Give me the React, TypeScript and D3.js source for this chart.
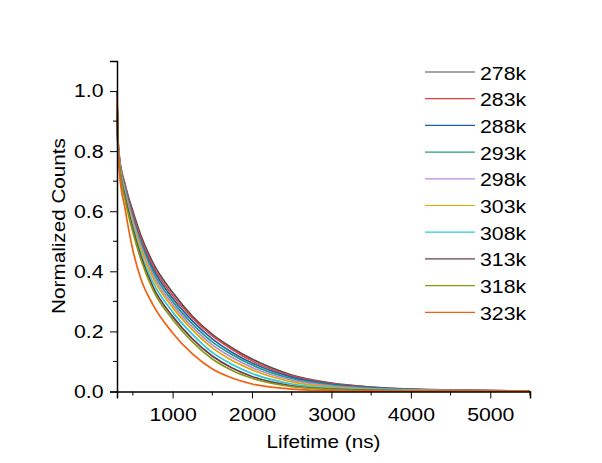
import React, { useEffect, useRef } from "react";
import * as d3 from "d3";

// sample times (ns)
const times = [300, 310, 330, 400, 500, 600, 750, 1000, 1250, 1500, 1750, 2000, 2500, 3000, 3500, 4000, 4500, 5000, 5500];

const labels = ["278k", "283k", "288k", "293k", "298k", "303k", "308k", "313k", "318k", "323k"];
const colors = ["#4d4d4d", "#e8403c", "#1f5fb0", "#20a080", "#b888e0", "#e0a800", "#30c8d8", "#6b3a50", "#8a9a10", "#f06010"];

const s278 = [1.0, 0.86, 0.78, 0.69, 0.6, 0.52, 0.43, 0.33, 0.25, 0.19, 0.145, 0.108, 0.055, 0.028, 0.015, 0.008, 0.005, 0.003, 0.002];
const s283 = [0.98, 0.85, 0.78, 0.69, 0.59, 0.51, 0.42, 0.32, 0.245, 0.185, 0.14, 0.102, 0.052, 0.026, 0.014, 0.008, 0.005, 0.003, 0.002];
const s288 = [0.97, 0.85, 0.77, 0.68, 0.58, 0.5, 0.41, 0.31, 0.235, 0.175, 0.13, 0.095, 0.048, 0.024, 0.013, 0.007, 0.004, 0.003, 0.002];
const s293 = [0.96, 0.84, 0.77, 0.68, 0.575, 0.495, 0.4, 0.3, 0.225, 0.165, 0.122, 0.088, 0.043, 0.021, 0.011, 0.006, 0.004, 0.002, 0.001];
const s298 = [0.98, 0.85, 0.77, 0.67, 0.57, 0.485, 0.39, 0.29, 0.215, 0.155, 0.113, 0.08, 0.038, 0.018, 0.009, 0.005, 0.003, 0.002, 0.001];
const s303 = [0.97, 0.84, 0.76, 0.66, 0.56, 0.475, 0.38, 0.28, 0.205, 0.145, 0.103, 0.072, 0.032, 0.015, 0.008, 0.004, 0.003, 0.002, 0.001];
const s308 = [0.96, 0.84, 0.76, 0.655, 0.55, 0.46, 0.365, 0.265, 0.19, 0.13, 0.09, 0.06, 0.025, 0.011, 0.006, 0.003, 0.002, 0.001, 0.001];
const s313 = [0.95, 0.83, 0.75, 0.65, 0.54, 0.45, 0.35, 0.25, 0.175, 0.118, 0.078, 0.05, 0.019, 0.008, 0.004, 0.002, 0.001, 0.001, 0.001];
const s318 = [0.96, 0.83, 0.75, 0.64, 0.53, 0.44, 0.34, 0.24, 0.165, 0.108, 0.07, 0.044, 0.016, 0.007, 0.003, 0.002, 0.001, 0.001, 0.001];
const s323 = [0.97, 0.82, 0.73, 0.61, 0.47, 0.375, 0.29, 0.195, 0.125, 0.075, 0.045, 0.025, 0.008, 0.003, 0.002, 0.001, 0.001, 0.001, 0.001];

const seriesValues = [s278, s283, s288, s293, s298, s303, s308, s313, s318, s323];

const xTicks = [1000, 2000, 3000, 4000, 5000];
const xMinor = [500, 1500, 2500, 3500, 4500, 5500];
const yTicks = [0.0, 0.2, 0.4, 0.6, 0.8, 1.0];
const yMinor = [0.1, 0.3, 0.5, 0.7, 0.9];

const W = 602;
const H = 463;
const FONT = "Arial, 'Liberation Sans', sans-serif";
const SX = 1.15; // reference text is drawn a bit wide

export default function App() {
  const svgRef = useRef<SVGSVGElement>(null);

  useEffect(() => {
    const svg = d3.select(svgRef.current);
    svg.selectAll("*").remove();

    const left = 117, right = 530, top = 61, bottom = 391.5;
    const x = d3.scaleLinear().domain([300, 5500]).range([left, right]);
    const y = d3.scaleLinear().domain([0, 1.1]).range([bottom, top]);

    svg.append("rect").attr("width", W).attr("height", H).attr("fill", "#fff");

    // curves
    const line = d3
      .line<number>()
      .x((_, i) => x(times[i]))
      .y((d) => y(d))
      .curve(d3.curveMonotoneX);

    seriesValues.forEach((vals, k) => {
      svg
        .append("path")
        .attr("d", line(vals))
        .attr("fill", "none")
        .attr("stroke", colors[k])
        .attr("stroke-width", 1.7);
    });

    // x axis
    const xAxis = svg.append("g").attr("transform", `translate(0,${bottom})`);
    xAxis
      .call(d3.axisBottom(x).tickValues(xTicks).tickSize(7).tickPadding(9).tickFormat(d3.format("d")))
      .call((g) => g.select(".domain").attr("stroke", "#000").attr("stroke-width", 1.5));
    xAxis
      .selectAll(".minor")
      .data(xMinor)
      .enter()
      .append("line")
      .attr("x1", (d) => x(d))
      .attr("x2", (d) => x(d))
      .attr("y1", 0)
      .attr("y2", 4)
      .attr("stroke", "#000");

    // y axis
    const yAxis = svg.append("g").attr("transform", `translate(${left},0)`);
    yAxis
      .call(d3.axisLeft(y).tickValues(yTicks).tickSize(7).tickPadding(6).tickFormat(d3.format(".1f")))
      .call((g) => g.select(".domain").attr("stroke", "#000").attr("stroke-width", 1.5));
    yAxis
      .selectAll(".minor")
      .data(yMinor)
      .enter()
      .append("line")
      .attr("x1", 0)
      .attr("x2", -4)
      .attr("y1", (d) => y(d))
      .attr("y2", (d) => y(d))
      .attr("stroke", "#000");

    svg.selectAll(".tick line").attr("stroke", "#000");
    svg
      .selectAll(".tick text")
      .attr("font-family", FONT)
      .attr("font-size", 18.5)
      .attr("fill", "#000")
      .attr("transform", `scale(${SX},1)`);
    yAxis.selectAll(".tick text").attr("x", -13.4 / SX);

    // axis titles
    svg
      .append("text")
      .attr("transform", `translate(${(left + right) / 2},448) scale(${SX},1)`)
      .attr("text-anchor", "middle")
      .attr("font-family", FONT)
      .attr("font-size", 18)
      .text("Lifetime (ns)");
    svg
      .append("text")
      .attr("transform", `translate(65,226) rotate(-90) scale(${SX},1)`)
      .attr("text-anchor", "middle")
      .attr("font-family", FONT)
      .attr("font-size", 18)
      .text("Normalized Counts");

    // legend
    const lg = svg.append("g");
    labels.forEach((lab, i) => {
      const yy = 72 + i * 26.7;
      lg.append("line")
        .attr("x1", 425)
        .attr("x2", 475)
        .attr("y1", yy)
        .attr("y2", yy)
        .attr("stroke", colors[i])
        .attr("stroke-width", 1.2);
      lg.append("text")
        .attr("transform", `translate(480,${yy + 7.5}) scale(${SX},1)`)
        .attr("font-family", FONT)
        .attr("font-size", 18.5)
        .text(lab);
    });
  }, []);

  return <svg ref={svgRef} width={W} height={H} style={{ display: "block", margin: -8 }} />;
}
